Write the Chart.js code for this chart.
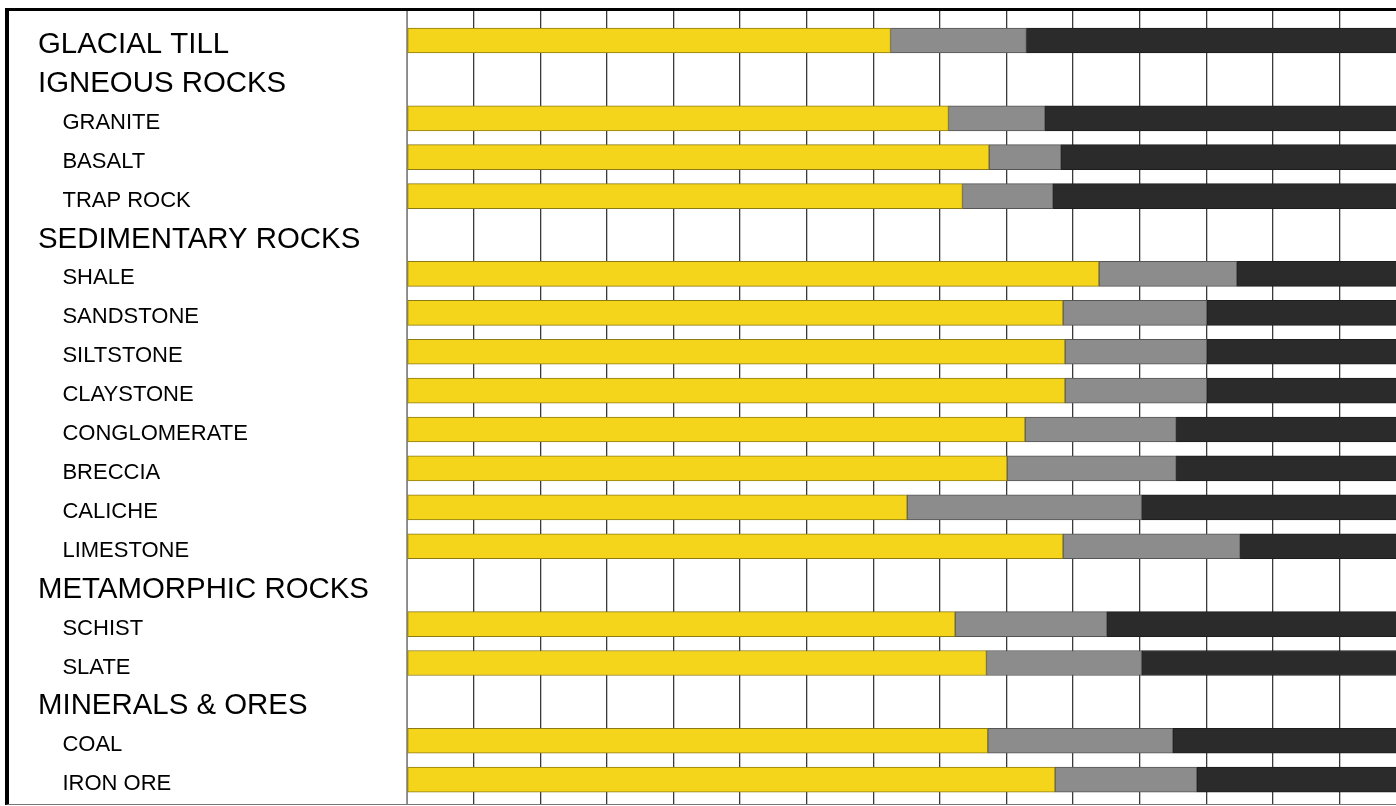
<!DOCTYPE html>
<html lang="en">
<head>
    <meta charset="UTF-8">
    <title>Rock types</title>
    <script src="https://cdn.jsdelivr.net/npm/chart.js"></script>
    <style>
        html, body {
            margin: 0;
            padding: 0;
            background: #fff;
            overflow: hidden;
        }
        #frame {
            position: absolute;
            left: 5px;
            top: 8px;
            border-left: 4px solid #000;
            border-top: 3px solid #000;
            border-bottom: 1px solid #777;
        }
        .wrap {
            position: relative;
            width: 1400px;
            height: 793px;
        }
    </style>
</head>
<body>

<div id="frame">
    <div class="wrap">
        <canvas id="rocas"></canvas>
    </div>
</div>

<script>
// rows top to bottom
const rowLabels = ['GLACIAL TILL', 'IGNEOUS ROCKS', 'GRANITE', 'BASALT', 'TRAP ROCK',
    'SEDIMENTARY ROCKS', 'SHALE', 'SANDSTONE', 'SILTSTONE', 'CLAYSTONE', 'CONGLOMERATE',
    'BRECCIA', 'CALICHE', 'LIMESTONE', 'METAMORPHIC ROCKS', 'SCHIST', 'SLATE',
    'MINERALS & ORES', 'COAL', 'IRON ORE'];
const headingRows = [0, 1, 5, 14, 17];

// where each segment ends, in grid units (one unit per vertical line)
const yellowEnd = [7.26, null, 8.13, 8.74, 8.34, null, 10.39, 9.85, 9.88, 9.88, 9.28,
    9.01, 7.51, 9.85, null, 8.23, 8.70, null, 8.72, 9.73];
const grayEnd = [9.30, null, 9.58, 9.82, 9.70, null, 12.46, 12.01, 12.01, 12.01, 11.55,
    11.55, 11.03, 12.51, null, 10.51, 11.03, null, 11.50, 11.86];
const scaleMax = 15;

function segment(from, to) {
    const out = [];
    rowLabels.forEach((l, i) => {
        if (yellowEnd[i] === null) return;
        out.push({ y: i, x: [from(i), to(i)] });
    });
    return out;
}

function isHeading(c) {
    return c.tick ? headingRows.includes(c.tick.value) : false;
}

const ctx = document.getElementById('rocas').getContext('2d');
new Chart(ctx, {
    type: 'bar',
    data: {
        datasets: [
            {
                data: segment(i => 0, i => yellowEnd[i]),
                backgroundColor: '#f4d51b',
                borderColor: '#8c7a12'
            },
            {
                data: segment(i => yellowEnd[i], i => grayEnd[i]),
                backgroundColor: '#8c8c8c',
                borderColor: '#555'
            },
            {
                data: segment(i => grayEnd[i], i => scaleMax),
                backgroundColor: '#2b2b2b',
                borderColor: '#1c1c1c'
            }
        ]
    },
    options: {
        indexAxis: 'y',
        responsive: true,
        maintainAspectRatio: false,
        animation: false,
        layout: { padding: { left: 29, right: 3, top: 0, bottom: 0 } },
        datasets: {
            bar: { barThickness: 25, borderWidth: 1, borderSkipped: false }
        },
        plugins: {
            legend: { display: false },
            tooltip: { enabled: false }
        },
        scales: {
            x: {
                type: 'linear',
                min: 0,
                max: scaleMax,
                ticks: { display: false, stepSize: 1 },
                grid: {
                    drawTicks: false,
                    color: c => c.tick && c.tick.value === 0 ? '#999' : '#3a3a3a',
                    lineWidth: 1.3
                },
                border: { display: false }
            },
            y: {
                type: 'linear',
                reverse: true,
                stacked: true,
                offset: false,
                bounds: 'data',
                min: -0.758,
                max: 19.625,
                afterBuildTicks: s => {
                    // one tick per row label
                    s.ticks = rowLabels.map((l, i) => ({ value: i }));
                },
                afterFit: s => {
                    s.width = 369;
                    s.paddingTop = 0;
                    s.paddingBottom = 0;
                },
                grid: { display: false, offset: false },
                border: { display: true, color: '#888', width: 1 },
                ticks: {
                    autoSkip: false,
                    crossAlign: 'far',
                    labelOffset: 4.5,
                    padding: 0,
                    color: '#000',
                    font: c => ({
                        family: '"Liberation Sans", Arial, sans-serif',
                        size: isHeading(c) ? 29.4 : 22,
                        lineHeight: 0.01
                    }),
                    callback: v => headingRows.includes(v) ? rowLabels[v] : '    ' + rowLabels[v]
                }
            }
        }
    }
});
</script>

</body>
</html>
